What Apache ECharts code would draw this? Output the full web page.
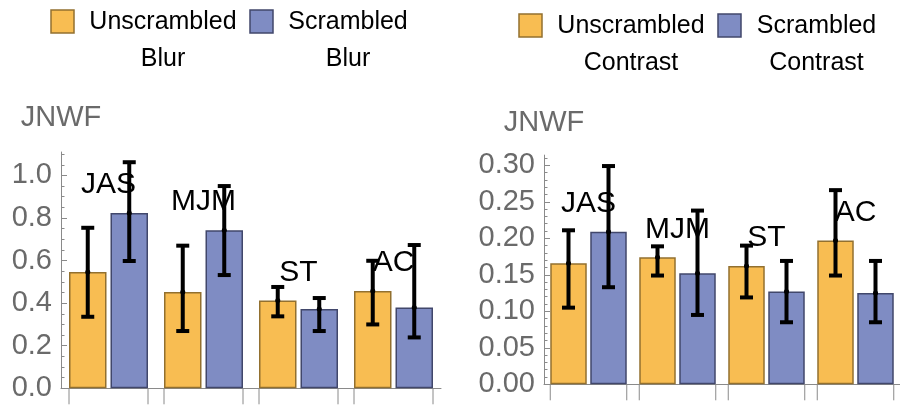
<!DOCTYPE html>
<html><head><meta charset="utf-8">
<script src="https://cdn.jsdelivr.net/npm/echarts@6/dist/echarts.min.js"></script>
<style>html,body{margin:0;padding:0;background:#fff}#c{width:900px;height:405px}</style>
</head><body><div id="c"></div>
<script>
// ---- data ----
const categories = ['JAS', 'MJM', 'ST', 'AC'];

const blurUnscrambled     = [0.546, 0.452, 0.413, 0.457];
const blurUnscrambledLow  = [0.336, 0.269, 0.338, 0.300];
const blurUnscrambledHigh = [0.754, 0.670, 0.476, 0.599];
const blurScrambled       = [0.824, 0.743, 0.372, 0.380];
const blurScrambledLow    = [0.598, 0.532, 0.269, 0.239];
const blurScrambledHigh   = [1.062, 0.950, 0.424, 0.673];

const contrastUnscrambled     = [0.166, 0.174, 0.162, 0.197];
const contrastUnscrambledLow  = [0.105, 0.149, 0.119, 0.149];
const contrastUnscrambledHigh = [0.211, 0.189, 0.190, 0.266];
const contrastScrambled       = [0.209, 0.152, 0.127, 0.125];
const contrastScrambledLow    = [0.133, 0.095, 0.085, 0.085];
const contrastScrambledHigh   = [0.299, 0.238, 0.169, 0.169];

const blurTicks = [0, 0.2, 0.4, 0.6, 0.8, 1.0];
const contrastTicks = [0, 0.05, 0.10, 0.15, 0.20, 0.25, 0.30];
const blurMax = 1.11, contrastMax = 0.314;

// minor ticks
function minors(step, top, majors) {
  const out = [];
  for (let k = 1; k * step <= top + 1e-9; k++) {
    const v = +(k * step).toFixed(4);
    if (!majors.some(m => Math.abs(m - v) < 1e-9)) out.push(v);
  }
  return out;
}
const blurMinor = minors(0.05, 1.10, blurTicks);
const contrastMinor = minors(0.01, 0.31, contrastTicks);

// ---- styles ----
const YEL = '#F8BD52', YEL_B = '#92702f';
const BLU = '#7F8CC3', BLU_B = '#41476b';
const AX = '#8a8a8a', TXT = '#6a6a6a';
const FONT = '"Liberation Sans", Arial, sans-serif';

const panels = [
  { left: 61, width: 380, top: 152, height: 236.3, bw: 37.5, gap: 4, max: blurMax,
    ticks: blurTicks, minor: blurMinor, dec: 1, nameGap: 20,
    u: blurUnscrambled, ul: blurUnscrambledLow, uh: blurUnscrambledHigh,
    s: blurScrambled, sl: blurScrambledLow, sh: blurScrambledHigh },
  { left: 544, width: 365.3, top: 155.1, height: 229.2, bw: 36.5, gap: 3.5, max: contrastMax,
    ticks: contrastTicks, minor: contrastMinor, dec: 2, nameGap: 18,
    u: contrastUnscrambled, ul: contrastUnscrambledLow, uh: contrastUnscrambledHigh,
    s: contrastScrambled, sl: contrastScrambledLow, sh: contrastScrambledHigh }
];

const grid = [], xAxis = [], yAxis = [], series = [];
panels.forEach((p, gi) => {
  grid.push({ left: p.left, top: p.top, width: p.width, height: p.height });
  xAxis.push({ gridIndex: gi, type: 'category', data: categories,
    axisLine: { show: true, lineStyle: { color: AX, width: 1 } },
    axisTick: { show: false }, axisLabel: { show: false }, splitLine: { show: false } });
  const yMajor = yAxis.length;
  yAxis.push({ gridIndex: gi, type: 'value', position: 'left', min: 0, max: p.max,
    axisLine: { show: true, lineStyle: { color: AX, width: 1 } },
    axisTick: { show: true, inside: true, length: 6, customValues: p.ticks, lineStyle: { color: AX } },
    axisLabel: { customValues: p.ticks, formatter: v => (+v).toFixed(p.dec), color: TXT,
      fontSize: 29, fontFamily: FONT, margin: 9 },
    splitLine: { show: false },
    name: 'JNWF', nameLocation: 'end', nameGap: p.nameGap,
    nameTextStyle: { color: TXT, fontSize: 29, fontFamily: FONT, align: 'center' } });
  yAxis.push({ gridIndex: gi, type: 'value', position: 'left', min: 0, max: p.max,
    axisLine: { show: false },
    axisTick: { show: true, inside: true, length: 3.5, customValues: p.minor, lineStyle: { color: AX } },
    axisLabel: { show: false }, splitLine: { show: false } });

  series.push({ type: 'bar', name: 'Unscrambled', xAxisIndex: gi, yAxisIndex: yMajor,
    data: p.u, barWidth: p.bw, barGap: (p.gap / p.bw * 100) + '%',
    itemStyle: { color: YEL, borderColor: YEL_B, borderWidth: 1.5 }, silent: true });
  series.push({ type: 'bar', name: 'Scrambled', xAxisIndex: gi, yAxisIndex: yMajor,
    data: p.s, barWidth: p.bw, barGap: (p.gap / p.bw * 100) + '%',
    itemStyle: { color: BLU, borderColor: BLU_B, borderWidth: 1.5 }, silent: true });

  // error bars
  const errData = [];
  categories.forEach((c, i) => {
    errData.push([i, p.u[i], p.ul[i], p.uh[i], -1]);
    errData.push([i, p.s[i], p.sl[i], p.sh[i], 1]);
  });
  const half = (p.bw + p.gap) / 2;
  series.push({ type: 'custom', xAxisIndex: gi, yAxisIndex: yMajor, z: 10, silent: true,
    data: errData,
    renderItem: (params, api) => {
      const cat = api.value(0);
      const pm = api.coord([cat, api.value(1)]);
      const pl = api.coord([cat, api.value(2)]);
      const ph = api.coord([cat, api.value(3)]);
      const x = pm[0] + api.value(4) * half;
      const st = { stroke: '#000', lineWidth: 4 };
      return { type: 'group', children: [
        { type: 'line', shape: { x1: x, y1: ph[1], x2: x, y2: pl[1] }, style: st },
        { type: 'line', shape: { x1: x - 6.5, y1: ph[1], x2: x + 6.5, y2: ph[1] }, style: st },
        { type: 'line', shape: { x1: x - 6.5, y1: pl[1], x2: x + 6.5, y2: pl[1] }, style: st },
        { type: 'circle', shape: { cx: x, cy: pm[1], r: 2.5 }, style: { fill: '#000' } }
      ] };
    } });

  // group labels
  const labData = categories.map((c, i) => [i, Math.max(p.u[i], p.s[i])]);
  series.push({ type: 'custom', xAxisIndex: gi, yAxisIndex: yMajor, z: 5, silent: true,
    data: labData,
    renderItem: (params, api) => {
      const cat = api.value(0);
      const pt = api.coord([cat, api.value(1)]);
      return { type: 'text', style: { text: categories[cat], x: pt[0], y: pt[1] - 28,
        align: 'center', verticalAlign: 'middle', fontSize: 30, fontFamily: FONT, fill: '#000' } };
    } });

  // x ticks at group edges
  series.push({ type: 'custom', xAxisIndex: gi, yAxisIndex: yMajor, z: 3, silent: true,
    data: categories.map((c, i) => [i, 0]),
    renderItem: (params, api) => {
      const pt = api.coord([api.value(0), 0]);
      const hw = p.bw + p.gap / 2;
      const st = { stroke: AX, lineWidth: 1 };
      return { type: 'group', children: [
        { type: 'line', shape: { x1: pt[0] - hw, y1: pt[1], x2: pt[0] - hw, y2: pt[1] + 16 }, style: st },
        { type: 'line', shape: { x1: pt[0] + hw, y1: pt[1], x2: pt[0] + hw, y2: pt[1] + 16 }, style: st }
      ] };
    } });
});

// legends as graphics
function legendItem(x, y, fill, stroke, l1, l2, cx) {
  return [
    { type: 'rect', shape: { x: x, y: y, width: 23, height: 23 }, style: { fill: fill, stroke: stroke, lineWidth: 1.5 } },
    { type: 'text', style: { text: l1, x: cx, y: y + 12, align: 'center', verticalAlign: 'middle', fontSize: 25, fontFamily: FONT, fill: '#000' } },
    { type: 'text', style: { text: l2, x: cx, y: y + 49, align: 'center', verticalAlign: 'middle', fontSize: 25, fontFamily: FONT, fill: '#000' } }
  ];
}
const graphic = [].concat(
  legendItem(51, 10, YEL, YEL_B, 'Unscrambled', 'Blur', 163),
  legendItem(250, 10, BLU, BLU_B, 'Scrambled', 'Blur', 348),
  legendItem(519, 14, YEL, YEL_B, 'Unscrambled', 'Contrast', 631),
  legendItem(718, 14, BLU, BLU_B, 'Scrambled', 'Contrast', 816.5)
);

const chart = echarts.init(document.getElementById('c'), null, { renderer: 'canvas' });
chart.setOption({ animation: false, backgroundColor: '#fff', grid, xAxis, yAxis, series, graphic });
</script></body></html>
